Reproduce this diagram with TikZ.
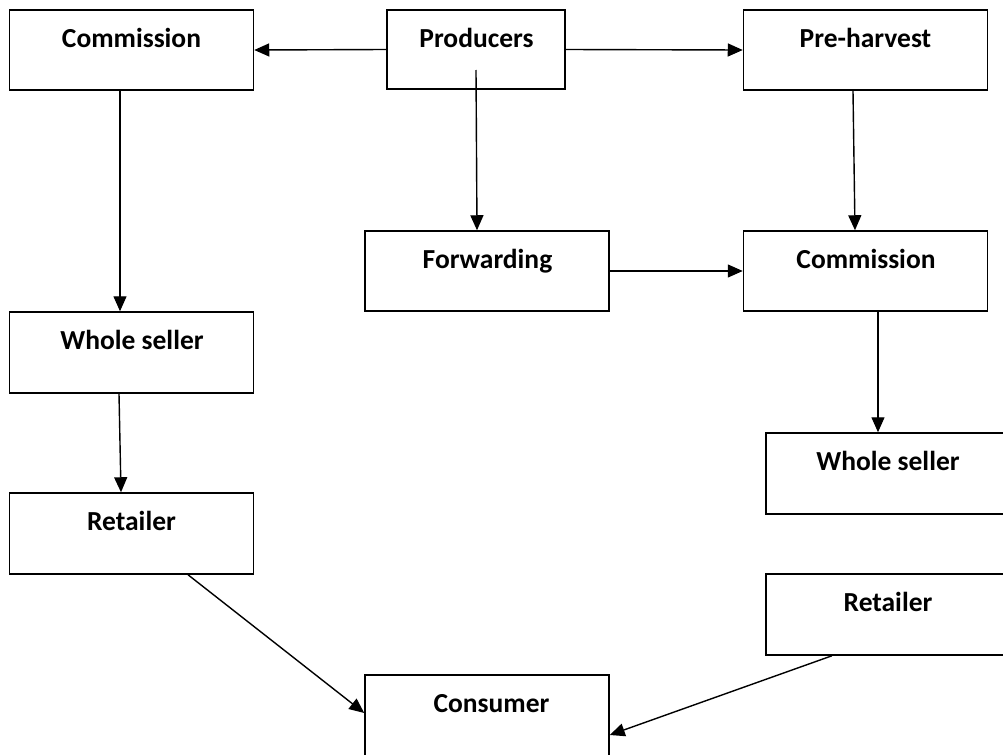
\documentclass[tikz,border=0pt]{standalone}
\usepackage{fontspec}
\setmainfont{Carlito}
\usetikzlibrary{arrows.meta}
\tikzset{
  box/.style={draw, line width=0.75pt, rectangle, minimum width=122pt, minimum height=40pt, inner sep=0pt},
  lbl/.style={anchor=base, inner sep=0pt, font=\fontsize{13.75}{16}\selectfont\bfseries},
  arr/.style={line width=0.7pt, -{Triangle[length=7.5pt,width=6.5pt]}}
}
\begin{document}
\begin{tikzpicture}[x=0.5pt,y=-0.5pt]
\useasboundingbox (0,0) rectangle (1003,755);
\fill[white] (0,0) rectangle (1003,755);
\clip (0,0) rectangle (1003,755);
% boxes
\node[box] (comL) at (131.5,50) {};
\node[box, minimum width=89pt, minimum height=39.5pt] (prod) at (476,49.5) {};
\node[box] (pre) at (865.5,50) {};
\node[box] (fwd) at (487,271) {};
\node[box] (comR) at (865.5,271) {};
\node[box, minimum height=40.5pt] (wsL) at (131.5,352.5) {};
\node[box, minimum height=40.5pt] (wsR) at (888,473.5) {};
\node[box, minimum height=40.5pt] (retL) at (131.5,533.5) {};
\node[box, minimum height=40.5pt] (retR) at (888,614.5) {};
\node[box, minimum height=50pt] (cons) at (487,725) {};
% labels
\node[lbl] (tcomL) at (131.5,47.3) {Commission};
\node[lbl] (tprod) at (476.5,47.3) {Producers};
\node[lbl] (tpre) at (865.5,47.3) {Pre-harvest};
\node[lbl] (tfwd) at (487.5,268.3) {Forwarding};
\node[lbl] (tcomR) at (866,268.3) {Commission};
\node[lbl] (twsL) at (132,349.5) {Whole seller};
\node[lbl] (twsR) at (888,470.5) {Whole seller};
\node[lbl] (tretL) at (131.5,530.5) {Retailer};
\node[lbl] (tretR) at (888,611.5) {Retailer};
\node[lbl] (tcons) at (491.5,712.3) {Consumer};
% connectors
\draw[arr] (prod.west) -- (comL.east);
\draw[arr] (prod.east) -- (pre.west);
\draw[arr] ([yshift=-10.25pt]prod.center) -- ([xshift=-5pt]fwd.north);
\draw[arr] ([xshift=-6.25pt]pre.south) -- ([xshift=-5.25pt]comR.north);
\draw[arr] (fwd.east) -- (comR.west);
\draw[arr] ([xshift=-5.75pt]comL.south) -- ([xshift=-5.75pt]wsL.north);
\draw[arr] ([xshift=6.25pt]comR.south) -- ([xshift=-5pt]wsR.north);
\draw[arr] ([xshift=-6.25pt]wsL.south) -- ([xshift=-5.25pt]retL.north);
\draw[arr] ([xshift=28.25pt]retL.south) -- ([yshift=6pt]cons.west);
\draw[arr] ([xshift=-28pt]retR.south) -- ([yshift=-5pt]cons.east);
\end{tikzpicture}
\end{document}
